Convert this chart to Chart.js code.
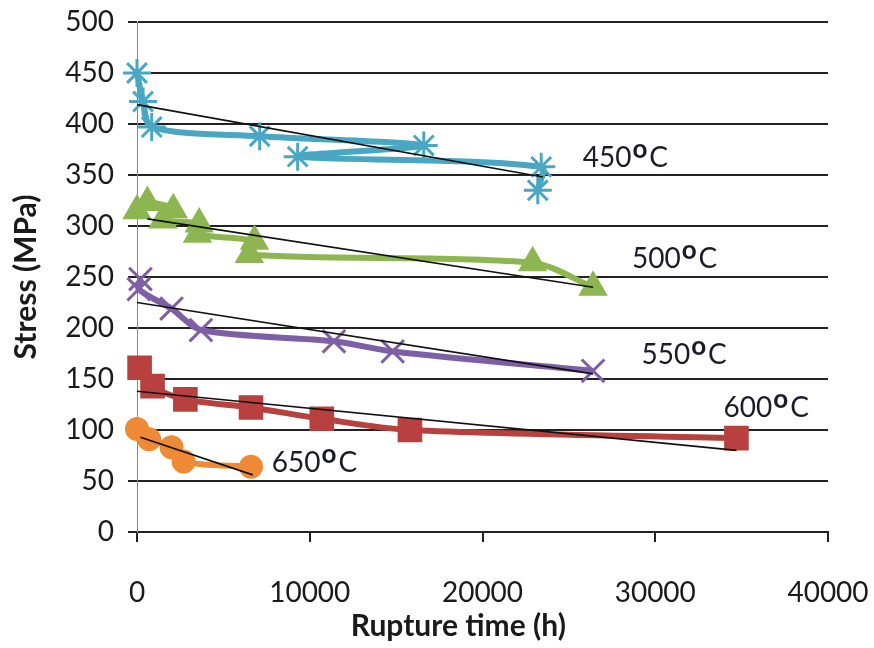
<!DOCTYPE html>
<html>
<head>
<meta charset="utf-8">
<script src="https://cdn.jsdelivr.net/npm/chart.js@4.4.1/dist/chart.umd.min.js"></script>
<style>
  body { margin: 0; background: #fff; }
  #wrap { width: 874px; height: 648px; }
</style>
</head>
<body>
<div id="wrap"><canvas id="creepChart" width="874" height="648"></canvas></div>
<script>
// ===== Stress vs rupture time =====
const temps = ["450", "500", "550", "600", "650"];

// rupture time (h) / stress (MPa)
const time450 = [0, 350, 850, 7100, 16600, 9300, 23400, 23200];
const stress450 = [450, 422, 397, 388, 379, 368, 358, 335];

const time500 = [0, 600, 2100, 1500, 3600, 3500, 6800, 6500, 22900, 26400];
const stress500 = [315, 323, 316, 306, 302, 292, 285, 272, 264, 240];

const time550 = [200, 100, 2000, 3700, 11400, 14800, 26400];
const stress550 = [248, 238, 219, 198, 187, 177, 158];

const time600 = [150, 900, 2800, 6600, 10700, 15800, 34700];
const stress600 = [161, 143, 130, 122, 111, 100, 92];

const time650 = [0, 700, 2000, 2700, 6600];
const stress650 = [101, 91, 83, 69, 64];

// black linear trend lines: [x0, x1], [y0, y1]
const trendTime = [[0, 23500], [600, 26400], [0, 26400], [0, 34700], [200, 6700]];
const trendStress = [[419, 348], [307, 240], [225, 155], [138, 80], [93, 56]];

// where each temperature label sits (left edge, baseline), in data units
const labelTime = [25800, 28650, 29200, 33950, 7800];
const labelStress = [358, 259, 165, 113, 59];

const colors = ["#4AA7C4", "#8DB650", "#7E5FA6", "#B8413F", "#EE8A35"];
const markers = ["star", "triangle", "crossRot", "rect", "circle"];
const markerSize = [14, 15, 16, 16, 11];
const markerLine = [3, 2, 3, 2, 2];

const allTimes = [time450, time500, time550, time600, time650];
const allStress = [stress450, stress500, stress550, stress600, stress650];

const toPoints = (xs, ys) => xs.map((x, i) => ({ x: x, y: ys[i] }));

const datasets = [];
temps.forEach((t, i) => {
  datasets.push({
    label: t + " °C",
    data: toPoints(allTimes[i], allStress[i]),
    showLine: true,
    order: 1,
    borderColor: colors[i],
    backgroundColor: colors[i],
    pointBorderColor: colors[i],
    pointBackgroundColor: colors[i],
    borderWidth: 6,
    pointStyle: markers[i],
    pointRadius: markerSize[i],
    pointBorderWidth: markerLine[i],
    tension: 0.3,
    clip: false,
  });
});
temps.forEach((t, i) => {
  datasets.push({
    label: "trend " + t,
    data: toPoints(trendTime[i], trendStress[i]),
    showLine: true,
    order: 0,
    borderColor: "#111",
    borderWidth: 1.6,
    pointRadius: 0,
    tension: 0,
    clip: false,
  });
});

// temperature labels with a superscript "o", plus the x axis title
const tempLabels = {
  id: "tempLabels",
  afterDatasetsDraw(chart) {
    const c = chart.ctx;
    const xs = chart.scales.x, ys = chart.scales.y;
    c.save();
    c.fillStyle = "#1b1b2a";
    c.textBaseline = "alphabetic";
    c.textAlign = "left";
    temps.forEach((t, i) => {
      let px = xs.getPixelForValue(labelTime[i]);
      const py = ys.getPixelForValue(labelStress[i]);
      c.font = "28px Lato";
      c.fillText(t, px, py);
      px += c.measureText(t).width + 1;
      c.font = "bold 26px Lato";
      c.fillText("o", px, py - 9);
      px += c.measureText("o").width + 2;
      c.font = "28px Lato";
      c.fillText("C", px, py);
    });
    // Excel put the axis title a little left of centre
    c.fillStyle = "#1a1a1a";
    c.textAlign = "center";
    c.textBaseline = "middle";
    c.font = "bold 30px Lato";
    c.fillText("Rupture time (h)", xs.getPixelForValue(18600), chart.height - 22);
    c.restore();
  },
};

new Chart(document.getElementById("creepChart"), {
  type: "scatter",
  data: { datasets: datasets },
  options: {
    responsive: false,
    animation: false,
    layout: { padding: { top: 22, right: 46, left: 0, bottom: 0 } },
    plugins: {
      legend: { display: false },
      tooltip: { enabled: false },
    },
    scales: {
      x: {
        type: "linear",
        min: 0,
        max: 40000,
        afterFit: (s) => { s.height = 116; s.paddingLeft = 0; s.paddingRight = 0; },
        ticks: {
          stepSize: 10000,
          padding: 34,
          color: "#1a1a1a",
          font: { family: "Lato", size: 28 },
          callback: (v) => String(v),
        },
        grid: { drawOnChartArea: false, drawTicks: true, tickLength: 10, color: "#222", lineWidth: 2 },
        border: { color: "#222", width: 2 },
      },
      y: {
        min: 0,
        max: 500,
        afterFit: (s) => { s.width = 137; s.paddingTop = 0; s.paddingBottom = 0; },
        ticks: {
          stepSize: 50,
          padding: 14,
          color: "#1a1a1a",
          font: { family: "Lato", size: 28 },
        },
        grid: { color: "#222", lineWidth: 2, tickLength: 9 },
        border: { color: "#888", width: 1 },
        title: {
          display: true,
          text: "Stress (MPa)",
          color: "#1a1a1a",
          font: { family: "Lato", size: 30, weight: "bold" },
          padding: { top: 8, bottom: 0 },
        },
      },
    },
  },
  plugins: [tempLabels],
});
</script>
</body>
</html>
